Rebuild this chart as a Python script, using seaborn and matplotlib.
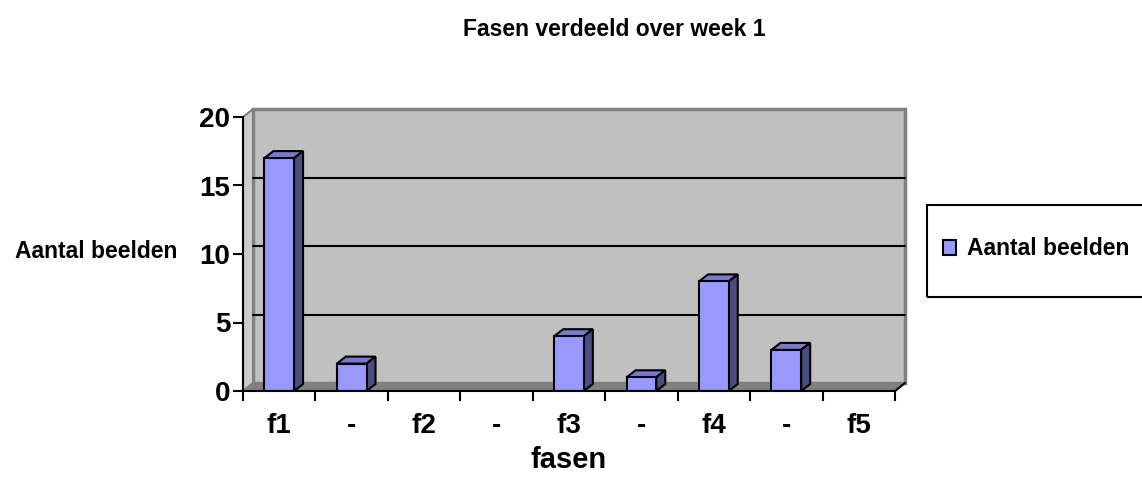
import numpy as np
import pandas as pd
import matplotlib.pyplot as plt
import seaborn as sns
from matplotlib.patches import Polygon, Rectangle

# data
fasen = ["f1", "-", "f2", "-", "f3", "-", "f4", "-", "f5"]
aantal_beelden = [17, 2, 0, 0, 4, 1, 8, 3, 0]
y_ticks = [0, 5, 10, 15, 20]

sns.set_theme(style="white")
plt.rcParams["font.family"] = ["Liberation Sans", "DejaVu Sans"]
plt.rcParams["font.weight"] = "bold"
plt.rcParams["text.color"] = "black"
plt.rcParams["axes.labelcolor"] = "black"
plt.rcParams["xtick.color"] = "black"
plt.rcParams["ytick.color"] = "black"

df = pd.DataFrame({"pos": range(len(fasen)), "aantal": aantal_beelden})

fig, ax = plt.subplots(figsize=(11.42, 4.91), dpi=100)
fig.subplots_adjust(left=243 / 1142, right=895 / 1142, bottom=100 / 491, top=374 / 491)

sns.barplot(data=df, x="pos", y="aantal", color="#9999FF", saturation=1,
            width=0.41, edgecolor="black", linewidth=1.5, ax=ax, zorder=5)

ax.set_xlim(-0.5, len(fasen) - 0.5)
ax.set_ylim(0, 20)
ax.set_facecolor("none")

# fake 3d depth (pixel offsets converted to data units)
px_x = 652 / len(fasen)
px_y = 274 / 20
wdx, wdy = 10 / px_x, 8 / px_y
bdx, bdy = 9 / px_x, 7 / px_y
x0, x1 = -0.5, len(fasen) - 0.5

# back wall, side wall, floor
ax.add_patch(Rectangle((x0 + wdx, wdy), x1 - x0, 20, facecolor="#C0C0C0",
                       edgecolor="#808080", lw=2.5, clip_on=False, zorder=0))
ax.add_patch(Polygon([(x0, 0), (x0 + wdx, wdy), (x0 + wdx, 20 + wdy), (x0, 20)],
                     facecolor="#CBCBCB", edgecolor="#808080", lw=1.5,
                     clip_on=False, zorder=0.5))
ax.add_patch(Polygon([(x0, 0), (x1, 0), (x1 + wdx, wdy), (x0 + wdx, wdy)],
                     facecolor="#808080", edgecolor="#808080", lw=1,
                     clip_on=False, zorder=0.6))
ax.plot([x1, x1 + wdx], [0, wdy], color="black", lw=1.5, clip_on=False, zorder=0.7)
for v in y_ticks[1:-1]:
    ax.plot([x0 + wdx, x1 + wdx], [v + wdy, v + wdy], color="black", lw=1.5,
            clip_on=False, zorder=0.8)

# bar tops and sides
for bar in [p for p in ax.patches if p.get_zorder() == 5]:
    bx = bar.get_x()
    bw, bh = bar.get_width(), bar.get_height()
    if bh <= 0:
        bar.set_visible(False)
        continue
    top = [(bx, bh), (bx + bdx, bh + bdy), (bx + bw + bdx, bh + bdy), (bx + bw, bh)]
    side = [(bx + bw, 0), (bx + bw + bdx, bdy), (bx + bw + bdx, bh + bdy), (bx + bw, bh)]
    ax.add_patch(Polygon(top, facecolor="#7A7ACC", edgecolor="black", lw=1.5,
                         zorder=4, clip_on=False))
    ax.add_patch(Polygon(side, facecolor="#4C4C80", edgecolor="black", lw=1.5,
                         zorder=4, clip_on=False))

# axes and ticks
for s in ["top", "right"]:
    ax.spines[s].set_visible(False)
for s in ["left", "bottom"]:
    ax.spines[s].set_color("black")
    ax.spines[s].set_linewidth(1.5)
    ax.spines[s].set_zorder(6)

ax.set_yticks(y_ticks)
ax.tick_params(axis="y", left=True, length=7, width=1.5, labelsize=20, pad=2)
ax.set_xticks(range(len(fasen)))
ax.set_xticklabels(fasen)
ax.set_xticks(np.arange(x0, x1 + 0.01, 1), minor=True)
ax.tick_params(axis="x", which="major", bottom=True, length=0, labelsize=20, pad=16)
ax.tick_params(axis="x", which="minor", bottom=True, length=7, width=1.5)

ax.set_xlabel("fasen", fontsize=21, fontweight="bold", labelpad=5)
ax.set_ylabel("Aantal beelden", fontsize=16.5, fontweight="bold", rotation=0,
              ha="right", va="center")
ax.yaxis.set_label_coords(-66 / 652, 140 / 274)

fig.suptitle("Fasen verdeeld over week 1", x=614 / 1142, y=1 - 30 / 491,
             va="center", fontsize=16.5, fontweight="bold")

# legend box running off the right edge
fig.patches.append(Rectangle((927 / 1142, 1 - 297 / 491), 0.3, 92 / 491,
                             transform=fig.transFigure, fill=False,
                             edgecolor="black", lw=1.5))
handle = Rectangle((0, 0), 1, 1, facecolor="#9999FF", edgecolor="black", lw=1.5)
fig.legend([handle], ["Aantal beelden"], loc="center left",
           bbox_to_anchor=(922 / 1142, 1 - 249 / 491), frameon=False,
           fontsize=16.5, handlelength=0.6, handleheight=0.6, handletextpad=0.45)

fig.savefig("out.png", dpi=100)
